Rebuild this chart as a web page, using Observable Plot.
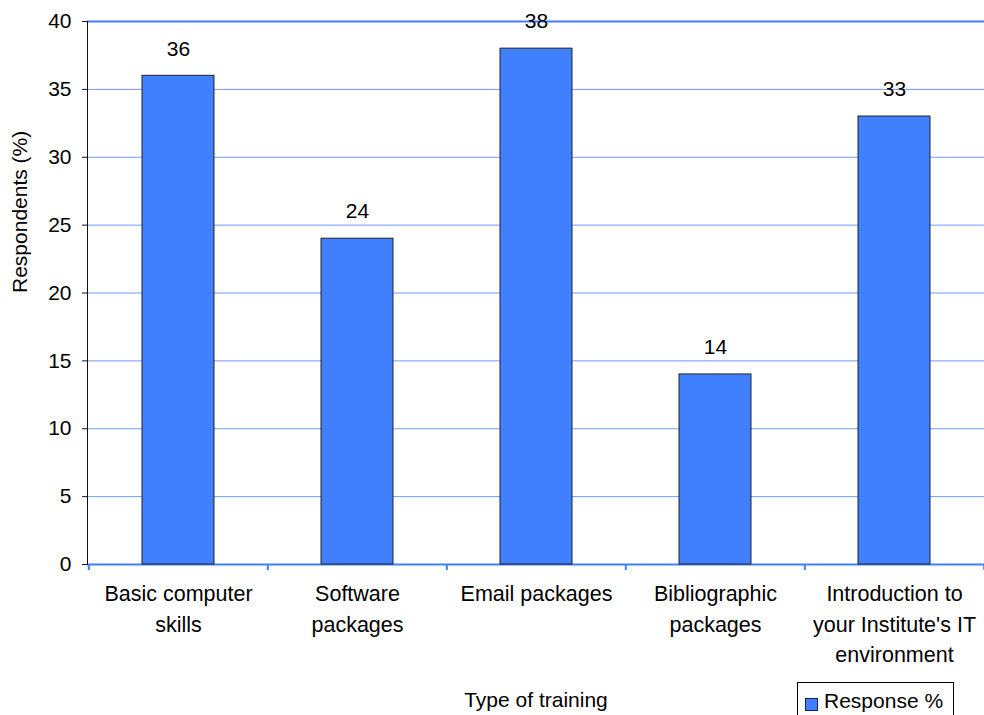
<!DOCTYPE html>
<html><head><meta charset="utf-8">
<script src="https://cdn.jsdelivr.net/npm/d3@7"></script>
<script src="https://cdn.jsdelivr.net/npm/@observablehq/plot@0.6"></script>
<style>
html,body{margin:0;padding:0;background:#fff;}
#wrap{position:relative;width:984px;height:715px;overflow:hidden;font-family:"Liberation Sans",Arial,sans-serif;}
#legend{position:absolute;left:797px;top:682px;width:157px;height:40px;border:1px solid #000;box-sizing:border-box;background:#fff;font-size:21px;color:#000;}
#legend .sw{position:absolute;left:7px;top:15px;width:11px;height:11px;border:1px solid #1a1a66;}
#legend .lab{position:absolute;left:26px;top:6px;white-space:nowrap;}
</style>
</head><body>
<div id="wrap"></div>
<script>
const categories = ["Basic computer skills","Software packages","Email packages","Bibliographic packages","Introduction to your Institute's IT environment"];
const tickLabels = ["Basic computer\nskills","Software\npackages","Email packages","Bibliographic\npackages","Introduction to\nyour Institute's IT\nenvironment"];
const values = [36, 24, 38, 14, 33];
const yTicks = [0,5,10,15,20,25,30,35,40];
const seriesName = "Response %";
const xTitle = "Type of training";
const yTitle = "Respondents (%)";
const barColor = "#4080ff";

const data = categories.map((c,i)=>({cat:c, value:values[i]}));
const W = 984, H = 715, mL = 87, mR = 0, mT = 21, mB = 151;
const step = (W - mL - mR) / categories.length;
const fmt = new Map(categories.map((c,i)=>[c,tickLabels[i]]));

const chart = Plot.plot({
  width: W, height: H,
  marginLeft: mL, marginRight: mR, marginTop: mT, marginBottom: mB,
  style: {fontFamily: '"Liberation Sans", Arial, sans-serif', fontSize: "21px", color: "#000", background: "#fff"},
  x: {type: "band", domain: categories, paddingInner: 0.6, paddingOuter: 0.3, label: null},
  y: {domain: [0, 40], label: null},
  marks: [
    Plot.gridY(yTicks.filter(t => t > 0 && t < 40), {stroke: "#6f9bff", strokeOpacity: 1, strokeWidth: 1}),
    Plot.ruleY([yTicks[yTicks.length-1]], {stroke: barColor, strokeWidth: 2}),
    Plot.ruleY([0], {stroke: barColor, strokeWidth: 2}),
    Plot.ruleX(categories, {x: d => d, dx: -step/2, y1: 0, y2: 0, insetBottom: -6, stroke: barColor, strokeWidth: 2}),
    Plot.ruleX(categories.slice(-1), {x: d => d, dx: step/2, y1: 0, y2: 0, insetBottom: -6, stroke: barColor, strokeWidth: 2}),
    Plot.barY(data, {x: "cat", y: "value", fill: barColor, stroke: "#222", strokeWidth: 1}),
    Plot.frame({anchor: "left", stroke: "#111", strokeWidth: 1}),
    Plot.axisY({ticks: yTicks, tickSize: 5, tickPadding: 11, fontSize: 21, stroke: "#111", label: null}),
    Plot.axisX({tickSize: 0, tickPadding: 15, fontSize: 21.5, lineHeight: 1.42, tickFormat: d => fmt.get(d), label: null}),
    Plot.text(data, {x: "cat", y: "value", text: d => String(d.value), dy: -27, fontSize: 21, fill: "#000"}),
    Plot.text([yTitle], {frameAnchor: "left", rotate: -90, dx: -67, fontSize: 21, fill: "#000"}),
    Plot.text([xTitle], {frameAnchor: "bottom", dy: 142, fontSize: 21, fill: "#000"})
  ]
});
const wrap = document.getElementById("wrap");
wrap.appendChild(chart);
const lg = document.createElement("div");
lg.id = "legend";
lg.innerHTML = `<div class="sw" style="background:${barColor}"></div><div class="lab"></div>`;
lg.querySelector(".lab").textContent = seriesName;
wrap.appendChild(lg);
</script>
</body></html>
